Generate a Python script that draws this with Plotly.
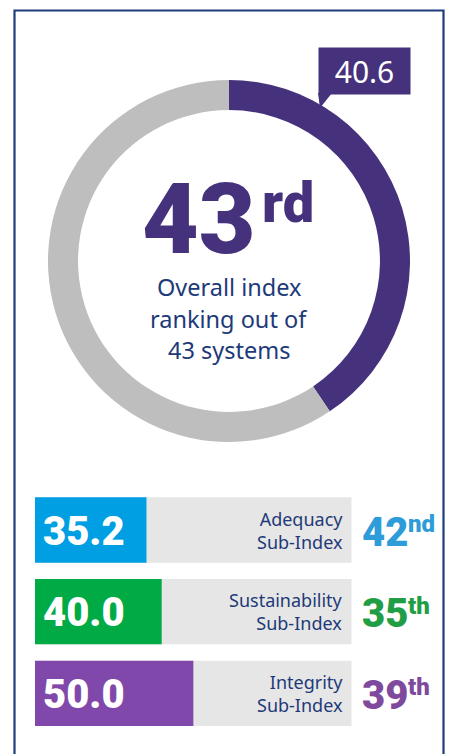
import plotly.graph_objects as go

W, H = 451, 754

# Overall index
overall_score = 40.6
overall_rank = "43"
overall_suffix = "rd"
overall_caption = ["Overall index", "ranking out of", "43 systems"]

# Sub-indices
sub_names = ["Adequacy", "Sustainability", "Integrity"]
sub_scores = [35.2, 40.0, 50.0]
sub_ranks = ["42", "35", "39"]
sub_suffixes = ["nd", "th", "th"]
sub_colors = ["#009fe3", "#00aa45", "#7f48aa"]
rank_colors = ["#2e9cd8", "#1f9e45", "#7f4a9e"]

NAVY = "#1e3a78"
PURPLE = "#46317c"
BIG_FONT = "Roboto"
BODY_FONT = "Noto Sans"


def X(px):
    return px / W


def Y(py):
    return 1 - py / H


fig = go.Figure()

# Donut for the overall score
fig.add_trace(go.Pie(
    values=[overall_score, 100 - overall_score],
    marker=dict(colors=[PURPLE, "#bebebe"]),
    hole=0.834, sort=False, direction="clockwise", rotation=0,
    textinfo="none", hoverinfo="skip", showlegend=False,
    domain=dict(x=[X(48), X(410)], y=[Y(442), Y(80)]),
))

# Sub-index bars: grey track plus coloured score
fig.add_trace(go.Bar(
    y=sub_names, x=[100] * len(sub_names), orientation="h",
    marker=dict(color="#e6e6e6", line=dict(width=0)),
    hoverinfo="skip", showlegend=False,
))
fig.add_trace(go.Bar(
    y=sub_names, x=sub_scores, orientation="h",
    marker=dict(color=sub_colors, line=dict(width=0)),
    hoverinfo="skip", showlegend=False,
))

ann = []

# Score call-out box
ann.append(dict(
    xref="paper", yref="paper", x=X(364), y=Y(71),
    text=f"{overall_score:.1f}", showarrow=False,
    width=91, height=46, borderpad=0, bgcolor=PURPLE,
    font=dict(family=BODY_FONT, size=30, color="white"),
    xanchor="center", yanchor="middle",
))

# Big rank in the middle of the donut
ann.append(dict(
    xref="paper", yref="paper", x=X(199), y=Y(219),
    text=overall_rank, showarrow=False, height=90, borderpad=0,
    font=dict(family=BIG_FONT, size=98, color=PURPLE, weight=900),
    xanchor="center", yanchor="middle",
))
ann.append(dict(
    xref="paper", yref="paper", x=X(260), y=Y(203),
    text=overall_suffix, showarrow=False,
    font=dict(family=BIG_FONT, size=56, color=PURPLE, weight=900),
    xanchor="left", yanchor="middle",
))
for i, line in enumerate(overall_caption):
    ann.append(dict(
        xref="paper", yref="paper", x=X(229), y=Y(287 + 31.5 * i),
        text=line, showarrow=False,
        font=dict(family=BODY_FONT, size=23.5, color=NAVY),
        xanchor="center", yanchor="middle",
    ))

for name, score, rank, suf, rc in zip(sub_names, sub_scores, sub_ranks,
                                      sub_suffixes, rank_colors):
    ann.append(dict(
        xref="x", yref="y", x=0, y=name, xshift=6, yshift=-1,
        text=f"{score:.1f}", showarrow=False,
        font=dict(family=BIG_FONT, size=40, color="white", weight=900),
        xanchor="left", yanchor="middle",
    ))
    ann.append(dict(
        xref="x", yref="y", x=100, y=name, xshift=-8, yshift=0,
        text=f"{name}<br>Sub-Index", showarrow=False, borderpad=0,
        align="right",
        font=dict(family=BODY_FONT, size=18, color=NAVY),
        xanchor="right", yanchor="middle",
    ))
    ann.append(dict(
        xref="paper", yref="y", x=X(360), y=name, yshift=-2,
        text=rank, showarrow=False,
        font=dict(family=BIG_FONT, size=40, color=rc, weight=900),
        xanchor="left", yanchor="middle",
    ))
    ann.append(dict(
        xref="paper", yref="y", x=X(406), y=name, yshift=6,
        text=suf, showarrow=False,
        font=dict(family=BIG_FONT, size=24, color=rc, weight=900),
        xanchor="left", yanchor="middle",
    ))

shapes = [
    # panel frame
    dict(type="rect", xref="paper", yref="paper",
         x0=X(14.5), x1=X(443.5), y0=-0.05, y1=Y(10.5),
         line=dict(color="#1f3d7b", width=2.2), fillcolor="rgba(0,0,0,0)",
         layer="below"),
    # call-out pointer
    dict(type="path", xref="paper", yref="paper",
         path=f"M {X(318)},{Y(93)} L {X(332)},{Y(93)} L {X(320)},{Y(108)} Z",
         fillcolor=PURPLE, line=dict(width=0)),
]

fig.update_layout(
    width=W, height=H,
    margin=dict(l=0, r=0, t=0, b=0),
    paper_bgcolor="white", plot_bgcolor="rgba(0,0,0,0)",
    barmode="overlay", bargap=0.2,
    xaxis=dict(domain=[X(35), X(351.7)], range=[0, 100], visible=False,
               fixedrange=True),
    yaxis=dict(domain=[Y(734.2), Y(489.2)], type="category",
               categoryarray=sub_names, range=[2.5, -0.5], visible=False,
               fixedrange=True),
    annotations=ann, shapes=shapes,
)

fig.write_html("out.html", config={"displayModeBar": False})
